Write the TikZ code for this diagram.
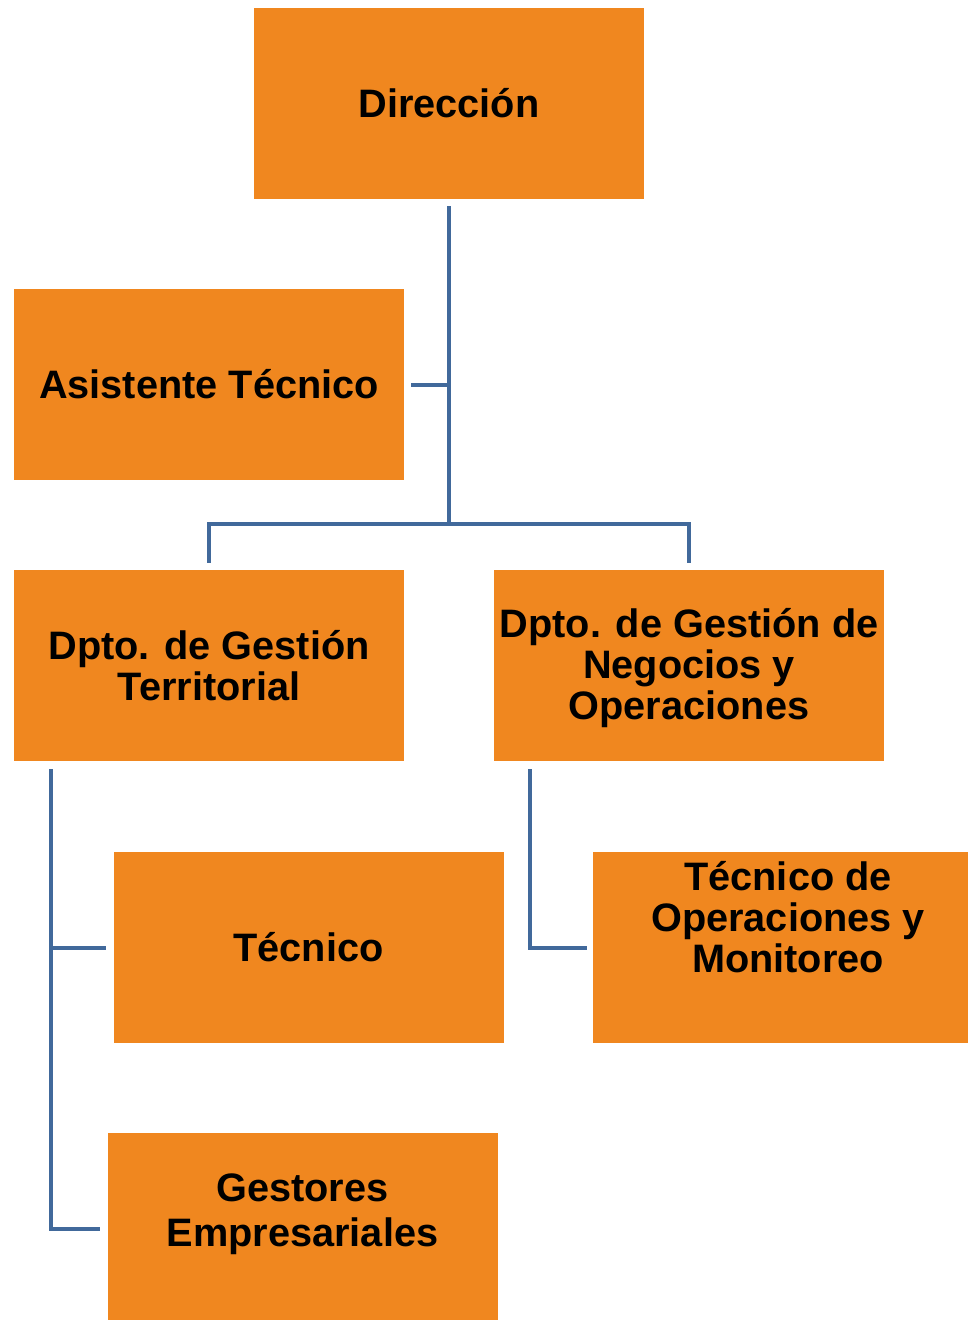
\documentclass[tikz,border=0pt]{standalone}
\usepackage{fontspec}
\setmainfont{Liberation Sans}
\usepackage{tikz}
\usetikzlibrary{positioning,calc}

\begin{document}
\begin{tikzpicture}
[x=1pt,y=-1pt,
   box/.style={rectangle,fill=orgbox,minimum width=390pt,minimum height=191pt,
      inner sep=0pt,align=center,font=\fontsize{39.7}{41}\selectfont\bfseries},
   txt/.style={align=center,inner sep=0pt,font=\fontsize{39.7}{41}\selectfont\bfseries},
   conn/.style={draw=connblue,line width=4pt}]
\definecolor{orgbox}{HTML}{F0871F}
\definecolor{connblue}{HTML}{41699B}
\useasboundingbox (0,0) rectangle (968,1320);
\clip (0,0) rectangle (968,1320);
\node[box] (dir) at (449,103.5) {Direcci\'on};
\node[box] (asis) at (209,384.5) {Asistente T\'ecnico};
\node[box] (terr) at (209,665.5) {Dpto. de Gesti\'on\\Territorial};
\node[box] (nego) at (689,665.5) {};
\node[txt] (negotxt) at (689,668) {Dpto. de Gesti\'on de\\Negocios y\\Operaciones};
\node[box] (tec) at (308.5,947.5) {T\'ecnico};
\node[box] (ope) at (788,947.5) {};
\node[txt] (opetxt) at (788,917) {T\'ecnico de\\Operaciones y\\Monitoreo};
\node[box] (ges) at (302.5,1228.5) {};
\node[txt,font=\fontsize{39.7}{45}\selectfont\bfseries] (gestxt) at (302.5,1214) {Gestores\\Empresariales};
% lineas
\coordinate (fork) at ($(dir.south)+(0,325)$);
\draw[conn] ([yshift=-7pt]dir.south) -- (fork);
\draw[conn] ([xshift=7pt]asis.east) -- (asis.east -| fork);
\draw[conn] ([yshift=7pt]terr.north) |- (fork) -| ([yshift=7pt]nego.north);
\coordinate (tl) at ([xshift=37pt,yshift=-8pt]terr.south west);
\draw[conn] (tl) |- ([xshift=-7pt]tec.west);
\draw[conn] (tl) |- ([xshift=-7pt]ges.west);
\coordinate (nl) at ([xshift=36pt,yshift=-8pt]nego.south west);
\draw[conn] (nl) |- ([xshift=-6pt]ope.west);
\end{tikzpicture}
\end{document}
